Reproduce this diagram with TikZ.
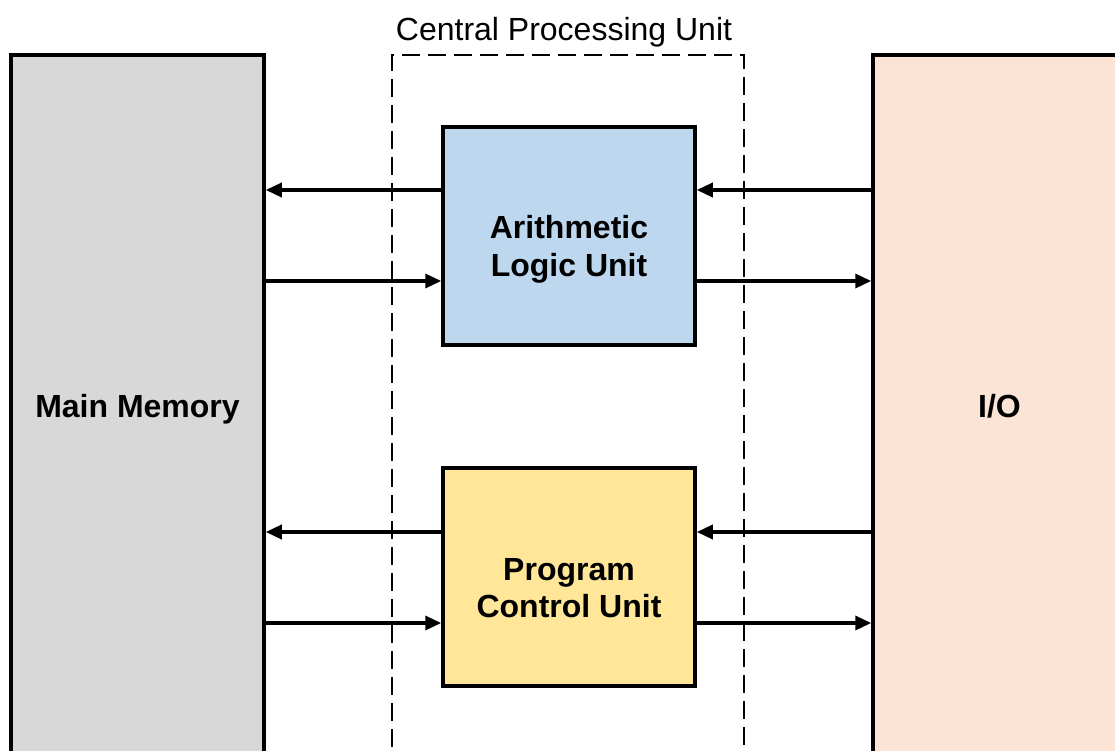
\documentclass[tikz,border=0pt]{standalone}
\usepackage{fontspec}
\setmainfont{Liberation Sans}
\usetikzlibrary{arrows.meta,positioning}

\definecolor{memgray}{HTML}{D8D8D8}
\definecolor{alublue}{HTML}{BDD7EE}
\definecolor{pcuyellow}{HTML}{FFE699}
\definecolor{iopeach}{HTML}{FBE3D5}

% two centred lines, sitting a little low in their box
\newcommand{\unittext}[2]{\raisebox{0pt}[90pt][10pt]{%
	\begin{tabular}[b]{@{}c@{}}#1\\#2\end{tabular}}}

\begin{document}
\begin{tikzpicture}[x=1pt,y=-1pt,->,>={Triangle[length=16pt,width=14pt]},
	line width=3.5pt,
	big font/.style={font=\fontsize{32}{37}\selectfont},
	side node/.style={rectangle,draw,line width=3.5pt,minimum width=253pt,
		minimum height=702pt,text depth=0pt,
		font=\fontsize{32}{37}\selectfont\bfseries},
	unit node/.style={rectangle,draw,line width=3.5pt,minimum width=252pt,
		minimum height=218pt,font=\fontsize{32}{37}\selectfont\bfseries}]
	
	\useasboundingbox (0,0) rectangle (1115,751);
	\clip (0,0) rectangle (1115,751);
	
	\node[side node, fill=memgray] (mem) at (137.5,406) {Main Memory};
	\node[side node, fill=iopeach] (io) at (999.5,406) {I/O};
	
	% dashed outline round the two units
	\node[draw, line width=2.5pt, dash pattern=on 18pt off 8pt,
		minimum width=352pt, minimum height=702pt] (cpu) at (568,406) {};
	\node[big font, inner sep=0pt, above=5pt of cpu, xshift=-4pt] (cpulabel)
		{Central Processing Unit};
	
	\node[unit node, fill=alublue] (alu) at (569,236)
		{\unittext{Arithmetic}{Logic Unit}};
	\node[unit node, fill=pcuyellow] (pcu) at (569,577)
		{\unittext{Program}{Control Unit}};
	
	\path
	([yshift=46pt]alu.west) edge ([yshift=46pt]alu.west -| mem.east)
	([yshift=-45pt]alu.west -| mem.east) edge ([yshift=-45pt]alu.west)
	([yshift=46pt]alu.east -| io.west) edge ([yshift=46pt]alu.east)
	([yshift=-45pt]alu.east) edge ([yshift=-45pt]alu.east -| io.west)
	([yshift=45pt]pcu.west) edge ([yshift=45pt]pcu.west -| mem.east)
	([yshift=-46pt]pcu.west -| mem.east) edge ([yshift=-46pt]pcu.west)
	([yshift=45pt]pcu.east -| io.west) edge ([yshift=45pt]pcu.east)
	([yshift=-46pt]pcu.east) edge ([yshift=-46pt]pcu.east -| io.west);
\end{tikzpicture}
\end{document}
